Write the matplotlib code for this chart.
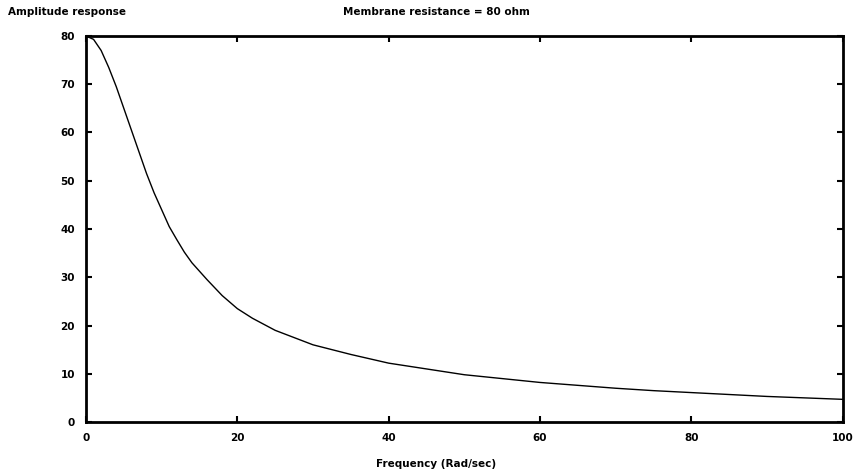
import matplotlib.pyplot as plt

# frequency (rad/sec) and amplitude
freq = [0, 1, 2, 3, 4, 5, 6, 7, 8, 9, 10, 11, 12, 13, 14, 16, 18, 20, 22, 25, 28,
        30, 35, 40, 45, 50, 55, 60, 65, 70, 75, 80, 85, 90, 95, 100]
amp = [80, 79.3, 77, 73.5, 69.5, 65, 60.5, 56, 51.5, 47.5, 44, 40.5, 37.8, 35.2,
       33, 29.5, 26.2, 23.5, 21.5, 19, 17.2, 16, 14, 12.2, 11, 9.8, 9, 8.2, 7.6,
       7.0, 6.5, 6.1, 5.7, 5.3, 5.0, 4.7]
xticks = [0, 20, 40, 60, 80, 100]
yticks = [0, 10, 20, 30, 40, 50, 60, 70, 80]

plt.rcParams['font.family'] = 'DejaVu Sans'
plt.rcParams['font.weight'] = 'bold'

fig = plt.figure(figsize=(8.59, 4.71), dpi=100)
ax = fig.add_axes([0.1001, 0.104, 0.8809, 0.8196])
ax.plot(freq, amp, color='black', linewidth=1.0)
ax.set_xlim(0, 100)
ax.set_ylim(0, 80)
ax.set_xticks(xticks)
ax.set_yticks(yticks)
ax.tick_params(direction='in', length=4, width=1.5, labelsize=7.5, pad=8,
               top=True, right=True)
for s in ax.spines.values():
    s.set_linewidth(2)

fig.text(0.009, 0.975, 'Amplitude response', fontsize=7.5, fontweight='bold', va='center')
fig.text(0.508, 0.975, 'Membrane resistance = 80 ohm', fontsize=7.5, fontweight='bold',
         va='center', ha='center')
fig.text(0.508, 0.015, 'Frequency (Rad/sec)', fontsize=7.5, fontweight='bold',
         va='center', ha='center')

fig.savefig('out.png', dpi=100)
